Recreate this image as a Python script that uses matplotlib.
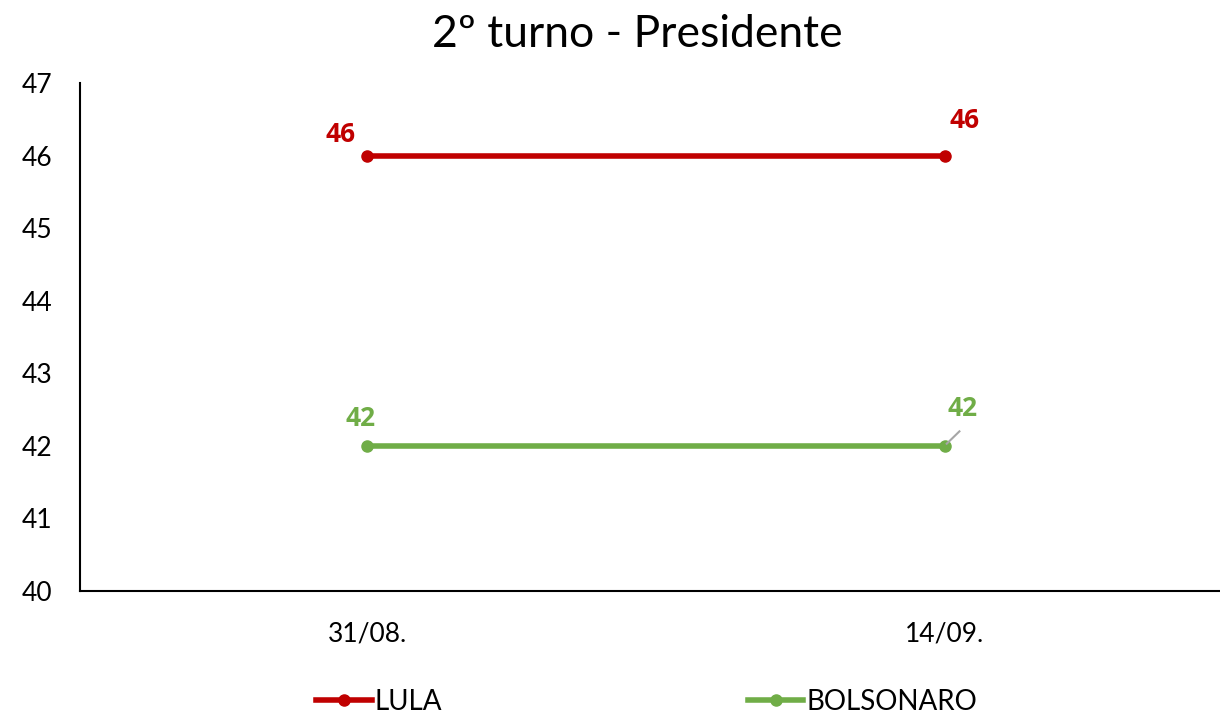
import matplotlib
matplotlib.use('Agg')
import matplotlib.pyplot as plt

datas = ['31/08.', '14/09.']
lula = [46, 46]
bolsonaro = [42, 42]

plt.rcParams['font.family'] = ['Lato', 'DejaVu Sans']

fig = plt.figure(figsize=(12.2, 7.22), dpi=100)
ax = fig.add_axes([0.0656, 0.1814, 0.9344, 0.7036])

x = range(len(datas))
ax.plot(x, lula, color='#C00000', lw=4, marker='o', ms=8, label='LULA')
ax.plot(x, bolsonaro, color='#70AD47', lw=4, marker='o', ms=8, label='BOLSONARO')

# rótulos de dados
lbl = dict(ha='center', va='center', fontsize=19, fontweight='bold',
           family=['Open Sans', 'DejaVu Sans'], textcoords='offset points')
ax.annotate(str(lula[0]), (0, lula[0]), xytext=(-19, 15), color='#C00000', **lbl)
ax.annotate(str(lula[1]), (1, lula[1]), xytext=(14, 25), color='#C00000', **lbl)
ax.annotate(str(bolsonaro[0]), (0, bolsonaro[0]), xytext=(-5, 20), color='#70AD47', **lbl)
ax.annotate(str(bolsonaro[1]), (1, bolsonaro[1]), xytext=(13, 27), color='#70AD47', **lbl)
ax.plot([1.003, 1.025], [42.03, 42.2], color='#A6A6A6', lw=1.5)

ax.set_xlim(-0.497, 1.476)
ax.set_ylim(40, 47)
ax.set_yticks(range(40, 48))
ax.set_xticks(list(x))
ax.set_xticklabels(datas)
ax.tick_params(axis='both', length=0, labelsize=19, colors='#000000')
ax.tick_params(axis='x', pad=22)
ax.tick_params(axis='y', pad=20)
for s in ['top', 'right']:
    ax.spines[s].set_visible(False)
for s in ['left', 'bottom']:
    ax.spines[s].set_linewidth(1.5)

fig.suptitle('2º turno - Presidente', fontsize=32, x=0.522, y=0.98)
fig.legend(loc='lower center', ncol=2, frameon=False, fontsize=20,
           bbox_to_anchor=(0.53, -0.025), columnspacing=11, handlelength=2.0, handletextpad=0.1)

fig.savefig('out.png', dpi=100)
